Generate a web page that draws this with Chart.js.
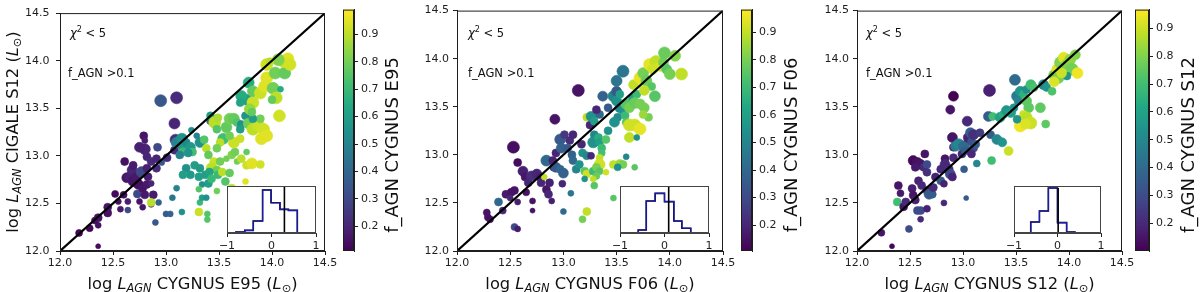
<!DOCTYPE html>
<html><head><meta charset="utf-8">
<script src="https://cdn.jsdelivr.net/npm/chart.js@4.4.1/dist/chart.umd.min.js"></script>
<style>
html,body{margin:0;padding:0;background:#fff;}
#wrap{position:relative;width:1200px;height:292px;overflow:hidden;background:#fff;}
#wrap canvas{position:absolute;left:0;top:0;}
</style></head><body><div id="wrap"></div>
<script>
// ---------------- DATA ----------------
const axisTicks = [12.0, 12.5, 13.0, 13.5, 14.0, 14.5];
const axisTickLabels = ['12.0', '12.5', '13.0', '13.5', '14.0', '14.5'];
const oneToOne = [12.0, 14.5];
const cbTicks = [0.2, 0.3, 0.4, 0.5, 0.6, 0.7, 0.8, 0.9];
const cbTickLabels = ['0.2', '0.3', '0.4', '0.5', '0.6', '0.7', '0.8', '0.9'];
const insetTicks = [-1, 0, 1];
const insetTickLabels = ['\u22121', '0', '1'];
const panelNames = ['E95', 'F06', 'S12'];
const colorRange1 = [0.11, 0.99];
const colorRange2 = [0.106, 0.983];
const colorRange3 = [0.10, 0.968];

// Panel 1: CYGNUS E95 vs CIGALE S12
const p1x = [12.18,12.28,12.33,12.36,12.36,12.45,12.45,12.52,12.36,12.55,
12.57,12.60,12.61,12.63,12.64,12.64,12.66,12.68,12.69,12.69,
12.72,12.73,12.74,12.75,12.77,12.78,12.79,12.80,12.80,12.82,
12.82,12.83,12.78,12.86,12.86,12.88,12.80,12.75,12.82,12.86,
12.91,12.91,12.92,12.96,12.95,13.10,13.08,13.09,13.08,13.01,
12.90,12.93,13.00,13.04,13.06,13.15,13.32,13.39,13.39,13.34,
12.86,13.31,13.10,13.15,13.16,13.18,13.19,13.23,13.16,13.25,
13.32,13.29,13.24,13.42,13.42,13.46,13.49,13.48,13.54,13.51,
13.57,13.60,13.64,13.67,13.71,13.70,13.75,13.76,13.71,13.70,
13.82,13.79,13.78,13.82,13.87,13.92,13.95,13.90,13.89,13.82,
13.81,13.78,13.82,13.89,13.93,13.95,14.01,14.04,14.00,14.08,
13.95,14.03,14.12,14.11,14.15,14.17,14.06,13.98,14.07,13.36,
13.38,13.40,13.48,13.45,13.43,13.48,13.51,13.57,13.62,13.67,
13.71,13.76,13.76,13.81,13.89,13.75,13.65,13.64,13.70,13.60,
13.19,13.23,13.27,13.31,13.32,13.37,13.40,13.34,13.41,13.49,
13.53,13.56,13.60,13.62,13.16,13.21,13.13,13.38,13.48,13.31,
13.43,13.10];
const p1y = [12.19,12.24,12.32,12.35,12.27,12.46,12.40,12.60,12.05,12.52,
12.44,12.59,12.94,12.77,12.52,12.43,12.78,12.85,12.73,12.90,
12.77,12.60,12.70,12.52,12.83,12.66,13.21,13.16,12.59,12.70,
12.87,12.78,12.46,12.71,12.49,12.59,13.07,13.09,12.99,12.94,
12.97,12.87,13.09,12.93,13.58,13.61,13.34,13.17,13.06,12.98,
12.30,12.51,12.39,12.39,12.56,12.41,12.51,12.39,12.33,12.56,
12.51,12.41,13.14,13.18,13.11,13.08,13.14,13.09,13.04,13.04,
13.14,13.21,13.27,13.37,13.42,13.35,13.40,13.28,13.18,13.14,
13.30,13.39,13.39,13.35,13.33,13.28,13.42,13.59,13.63,13.56,
13.56,13.49,13.34,13.28,13.32,13.28,13.21,13.18,13.39,13.39,
13.46,13.77,13.68,13.66,13.73,13.82,13.71,13.61,13.59,13.70,
13.96,13.87,13.87,13.99,14.02,13.96,14.01,13.99,13.42,13.17,
13.08,13.01,13.08,12.94,12.87,12.85,12.94,12.97,13.01,12.94,
12.97,13.04,12.90,12.92,12.91,12.73,13.04,13.14,13.18,13.21,
12.87,12.80,12.90,12.78,12.87,12.80,12.71,12.70,12.83,12.80,
12.83,12.73,12.82,12.66,12.80,13.03,13.01,12.56,12.63,12.65,
12.76,12.66];
const p1f = [.12,.13,.14,.15,.15,.16,.15,.13,.14,.15,
.17,.14,.15,.16,.18,.30,.18,.20,.16,.18,
.17,.30,.15,.16,.30,.16,.16,.18,.17,.17,
.19,.18,.16,.20,.17,.18,.20,.19,.20,.22,
.20,.22,.30,.35,.35,.22,.20,.22,.22,.22,
.35,.38,.35,.38,.45,.55,.70,.75,.75,.60,
.90,.92,.50,.55,.55,.60,.52,.58,.70,.72,
.55,.50,.55,.40,.60,.90,.88,.75,.72,.90,
.78,.80,.78,.75,.55,.60,.55,.60,.65,.62,
.92,.85,.80,.90,.92,.93,.95,.95,.80,.60,
.78,.65,.78,.92,.95,.95,.80,.90,.78,.65,
.92,.80,.78,.92,.95,.93,.82,.90,.93,.75,
.90,.78,.80,.92,.90,.80,.80,.80,.82,.80,
.90,.78,.92,.95,.93,.95,.80,.92,.92,.80,
.55,.58,.60,.60,.58,.60,.60,.55,.62,.70,
.90,.75,.78,.90,.60,.55,.50,.55,.80,.75,
.70,.50];
const p1s = [3.5,3.5,3.5,4,3,4,4,3.5,2.5,3,
3,3.5,4,5,3,3,5,5,5,4,
5,4,5,3,5.5,4,4,3,4,4,
4,4,3,3,3,4,5.5,5,4,4,
4,4,4,3,6,6,5.5,5.5,4,4,
3,3,3,3,3,3,3,3,3,3,
4,4,5.5,5.5,5.5,5,4,5,4,4,
5,3,3,4,4,6,4,4,5.5,4,
5.5,5.5,5.5,4,4,4,4,5.5,5.5,4,
6,5.5,5.5,6,6,6,6,6,4,4,
4,5.5,5.5,6,6,6,6,6,4,3,
6,6,6,6,6,6,6,4,6,4,
4,4,4,4,5.5,4,4,3,4,3,
4,3,4,5.5,4,3,4,5.5,4,4,
4,4,4,4,4,4,4,3,4,4,
4,4,4,4,4,4,4,3,3,3,
4,3];

// Panel 2: CYGNUS F06
const p2x = [12.28,12.29,12.31,12.39,12.43,12.46,12.51,12.50,12.54,12.53,
12.57,12.57,12.54,12.57,12.62,12.64,12.65,12.71,12.71,12.67,
12.70,12.75,12.78,12.79,12.82,12.84,12.86,12.87,12.89,12.84,
12.90,12.91,12.92,12.93,12.97,12.98,12.93,12.97,13.00,12.99,
13.00,13.07,13.01,13.06,13.09,13.14,13.04,13.08,13.09,13.12,
13.15,13.17,13.18,13.22,13.26,13.25,13.20,13.22,13.20,13.28,
13.22,13.26,13.29,13.34,13.31,13.29,13.28,13.33,13.34,13.36,
13.40,13.42,13.36,13.34,13.34,13.31,13.34,13.31,13.29,13.28,
13.40,13.37,13.42,13.47,13.50,13.50,13.56,13.50,13.53,13.53,
13.56,13.51,13.48,13.58,13.59,13.62,13.67,13.72,13.62,13.69,
13.59,13.62,13.65,13.69,13.67,13.72,13.76,13.80,13.75,13.66,
13.72,13.75,13.78,13.83,13.76,13.86,13.81,13.87,13.91,13.94,
13.97,14.00,13.95,14.05,14.11,13.84,13.59,13.47,13.53,13.56,
13.51,13.67,13.47,13.22,13.18];
const p2y = [12.40,12.35,12.33,12.51,12.42,12.59,12.61,12.55,12.63,13.08,
12.92,12.51,12.25,12.23,12.83,12.77,12.61,12.52,12.42,12.71,
12.78,12.80,12.77,12.71,12.77,12.64,12.59,12.71,12.52,12.94,
12.94,12.87,13.37,13.02,13.16,13.07,12.87,12.85,12.81,12.70,
12.41,12.60,13.21,13.15,13.21,13.67,13.07,13.00,12.94,12.85,
12.90,13.11,13.02,12.99,12.99,13.31,12.83,12.80,12.75,12.83,
13.39,13.40,13.35,13.42,13.47,13.21,13.13,13.18,13.13,13.07,
13.16,13.25,13.02,12.97,12.90,12.87,12.83,12.78,12.68,12.75,
12.82,13.61,13.49,13.61,13.66,13.77,13.87,13.56,13.63,13.49,
13.46,13.39,13.34,13.41,13.34,13.31,13.31,13.27,13.18,13.18,
13.53,13.49,13.59,13.63,13.54,13.53,13.49,13.39,13.42,13.73,
13.80,13.85,13.77,13.71,13.67,13.61,13.94,13.97,13.92,13.96,
13.89,13.84,14.06,14.03,13.84,13.89,12.98,12.90,12.91,12.90,
12.87,12.87,12.55,12.41,12.33];
const p2f = [.15,.15,.14,.40,.20,.17,.15,.20,.15,.14,
.13,.18,.30,.17,.18,.16,.15,.15,.15,.20,
.22,.20,.18,.20,.90,.16,.20,.18,.18,.40,
.20,.22,.15,.20,.35,.38,.35,.40,.38,.20,
.40,.45,.25,.22,.20,.15,.35,.38,.40,.50,
.55,.20,.55,.50,.20,.20,.75,.92,.55,.70,
.90,.55,.60,.40,.20,.50,.55,.65,.60,.70,
.75,.55,.72,.90,.92,.80,.75,.78,.75,.90,
.92,.38,.35,.50,.35,.45,.45,.55,.60,.50,
.55,.52,.55,.70,.75,.92,.92,.95,.90,.55,
.75,.80,.60,.70,.78,.80,.80,.80,.85,.90,
.95,.80,.78,.75,.90,.75,.95,.90,.93,.80,
.75,.80,.78,.82,.90,.92,.50,.90,.85,.80,
.55,.75,.75,.90,.80];
const p2s = [3.5,3.5,3.5,4,3.5,4,4,3,4,6,
4,3,3.5,3,5,4,3.5,3,2.5,4,
5,5,4,4,3,4,4,4,3,5.5,
4,4,5,4,5.5,5,5,4,5,3.5,
3,3,4,4,4,6,4,4,4,4,
4,4,4,4,3.5,4,4,4,3,4,
4,5,4,4,4,4,5.5,4,4,4,
4,4,3.5,3.5,5.5,4,3.5,3.5,3.5,3,
3,5,4,5.5,5,5.5,6,5,4,5,
4,4,5,4,4,6,6,6,5,3,
5.5,5,4,4,5.5,5,5,4,4,5,
6,5.5,5.5,4,5,5.5,6,6,5,5,
5,5.5,6,5.5,6,5,3,4,4,4,
3.5,3,3,4,3.5];

// Panel 3: CYGNUS S12
const p3x = [12.23,12.33,12.38,12.39,12.41,12.44,12.46,12.49,12.52,12.53,
12.55,12.57,12.60,12.60,12.66,12.53,12.57,12.60,12.55,12.63,
12.66,12.66,12.64,12.58,12.61,12.66,12.68,12.71,12.72,12.74,
12.79,12.79,12.83,12.83,12.82,12.82,12.86,12.88,12.90,12.91,
12.90,12.91,12.88,12.91,13.01,13.03,12.93,12.96,13.01,12.99,
13.02,13.04,13.05,13.07,13.08,13.10,13.10,13.08,13.12,13.13,
13.16,13.25,13.26,13.24,13.28,13.32,13.37,13.43,13.27,13.35,
13.38,13.41,13.45,13.48,13.51,13.49,13.52,13.54,13.57,13.60,
13.64,13.67,13.60,13.62,13.57,13.60,13.64,13.54,13.59,13.51,
13.73,13.78,13.76,13.79,13.84,13.86,13.89,13.90,13.92,13.95,
13.98,14.01,14.03,14.06,14.08,13.98,13.93,13.86];
const p3y = [12.19,12.05,12.51,12.68,12.60,12.46,12.51,12.23,12.65,12.58,
12.53,12.42,12.42,12.33,12.44,12.94,12.92,12.90,12.87,12.87,
12.90,12.82,13.01,12.73,12.68,12.63,12.59,12.59,12.66,12.77,
12.85,12.73,12.96,12.90,12.70,12.50,12.85,12.80,12.77,12.97,
13.18,13.08,13.47,13.61,12.85,12.55,13.09,13.11,13.09,13.01,
13.04,13.35,13.18,13.23,13.14,13.21,13.07,13.01,13.11,12.91,
13.23,13.67,13.21,13.40,13.40,13.16,13.13,13.04,12.94,13.39,
13.42,13.46,13.44,13.49,13.61,13.78,13.56,13.66,13.63,13.68,
13.73,13.70,13.56,13.49,13.42,13.39,13.33,13.30,13.32,13.37,
13.49,13.32,13.73,13.70,13.66,13.83,13.89,13.80,13.96,14.01,
13.94,13.99,13.89,14.04,13.85,13.82,13.85,13.76];
const p3f = [.15,.12,.70,.15,.16,.15,.20,.30,.17,.15,
.18,.30,.30,.20,.18,.12,.14,.15,.16,.20,
.30,.22,.15,.18,.20,.18,.35,.35,.20,.18,
.20,.35,.15,.20,.18,.20,.20,.30,.18,.20,
.15,.18,.15,.10,.35,.35,.45,.50,.40,.20,
.35,.20,.18,.35,.32,.22,.30,.20,.35,.50,
.25,.18,.35,.35,.70,.50,.55,.90,.70,.60,
.65,.55,.58,.55,.45,.40,.50,.55,.65,.52,
.70,.72,.75,.75,.90,.88,.90,.95,.92,.55,
.75,.75,.50,.55,.72,.78,.92,.78,.80,.93,
.80,.82,.78,.80,.95,.55,.90,.92];
const p3s = [3.5,2.5,4,4,3.5,4,4,3.5,4,4,
4,4,4,3,3.5,5,5,5,4,4,
4,4,4,4,4,4,5,4,4,4,
4,4,4,5,3.5,3,5,5,4,4,
5,4,4.5,5,3.5,2.5,5,5.5,5.5,4,
4,5,5,5,4,5,4,4,4,3.5,
4,6,4,5,4,5,4.5,4.5,4,5,
4,5,5,4,5.5,5.5,4,5,4,4,
5,4,5,5,4,5.5,6,6,5,4,
5,4,5,4,4,5.5,5.5,5.5,6,5.5,
5.5,5.5,6,5,5.5,4,5,5];

// Inset histograms (log-ratio distributions)
const h1Edges = [-0.80,-0.60,-0.41,-0.20,-0.01,0.19,0.38,0.58,0.80];
const h1Counts = [1.3,1.3,3.4,15.3,54.9,38.7,30.2,28.9];
const h1Median = 0.29;
const h2Edges = [-0.59,-0.41,-0.21,0.00,0.21,0.39,0.59,0.79];
const h2Counts = [1.3,3.8,40.9,50.6,40.0,15.3,6.0];
const h2Median = 0.094;
const h3Edges = [-0.615,-0.415,-0.21,0.00,0.21,0.40,0.60];
const h3Counts = [1.3,14.0,28.1,57.4,13.2,1.3];
const h3Median = 0.015;
const histMax = 60;

// ---------------- STYLE / LAYOUT ----------------
const W = 1200, H = 292;
const FAM = '"DejaVu Sans", sans-serif';
Chart.defaults.font.family = FAM;
const INK = '#1e1e1e';
const VIR = [[68,1,84],[72,36,117],[65,68,135],[53,95,141],[42,120,142],[33,145,140],[34,168,132],[68,191,112],[122,209,81],[189,223,38],[253,231,37]];
function viridis(t){
  t = Math.max(0, Math.min(1, t));
  const p = t*10, i = Math.min(9, Math.floor(p)), u = p - i;
  const a = VIR[i], b = VIR[i+1];
  return 'rgb(' + [0,1,2].map(k => Math.round(a[k] + (b[k]-a[k])*u)).join(',') + ')';
}
function mk(){
  const c = document.createElement('canvas');
  c.width = W; c.height = H; c.style.width = W+'px'; c.style.height = H+'px';
  document.getElementById('wrap').appendChild(c);
  return c;
}
function richText(ctx, parts, x, y, opt){
  const size = opt.size, rot = opt.rot || 0, align = opt.align || 'center';
  ctx.save();
  ctx.translate(x, y); ctx.rotate(rot);
  ctx.fillStyle = opt.color || '#111';
  ctx.textBaseline = 'alphabetic';
  const segs = parts.map(p => {
    const st = p[1] || '';
    const sub = st.includes('s'), sup = st.includes('p');
    const sz = (sub || sup) ? size*0.7 : size;
    const font = (st.includes('i') ? 'italic ' : '') + sz.toFixed(2) + 'px ' + FAM;
    ctx.font = font;
    return {t:p[0], font, w:ctx.measureText(p[0]).width, dy: sub ? size*0.22 : (sup ? -size*0.42 : 0)};
  });
  const total = segs.reduce((a, s) => a + s.w, 0);
  let cx = align === 'center' ? -total/2 : 0;
  const base = size*0.36;
  segs.forEach(s => { ctx.font = s.font; ctx.fillText(s.t, cx, base + s.dy); cx += s.w; });
  ctx.restore();
}

const panels = [
  {x:p1x, y:p1y, f:p1f, s:p1s, cr:colorRange1, name:panelNames[0],
   area:{l:60,r:325,t:9,b:251}, ypad:6.5, cb:{l:343,r:354,t:8,b:251}, cbLabelX:392,
   inset:{l:227,r:316,t:186,b:233}, edges:h1Edges, counts:h1Counts, med:h1Median, medTop:60,
   chiX:70, fX:68, ylabel:true},
  {x:p2x, y:p2y, f:p2f, s:p2s, cr:colorRange2, name:panelNames[1],
   area:{l:457,r:723,t:9,b:251}, ypad:4, cb:{l:741,r:752,t:9,b:251}, cbLabelX:791,
   inset:{l:620,r:709,t:186,b:233}, edges:h2Edges, counts:h2Counts, med:h2Median, medTop:60,
   chiX:468, fX:468, ylabel:false},
  {x:p3x, y:p3y, f:p3f, s:p3s, cr:colorRange3, name:panelNames[2],
   area:{l:857,r:1122,t:9,b:251}, ypad:4, cb:{l:1135,r:1149,t:9,b:251}, cbLabelX:1188,
   inset:{l:1014,r:1101,t:186,b:233}, edges:h3Edges, counts:h3Counts, med:h3Median, medTop:57.4,
   chiX:866, fX:866, ylabel:false}
];

const tickFont = {family:FAM, size:11};
function fixedTicks(vals){ return s => { s.ticks = vals.map(v => ({value:v})); }; }

function mainChart(P){
  const R = P.area;
  const [cmin, cmax] = P.cr;
  const pts = P.x.map((v, i) => ({x:v, y:P.y[i]}));
  const cols = P.f.map(f => viridis((f - cmin)/(cmax - cmin)));
  const deco = {
    id:'deco',
    afterDraw(chart){
      const ctx = chart.ctx, ca = chart.chartArea;
      ctx.save();
      ctx.strokeStyle = INK; ctx.lineWidth = 1;
      ctx.strokeRect(ca.left + 0.5, ca.top + 0.5, ca.right - ca.left - 1, ca.bottom - ca.top - 1);
      ctx.restore();
      richText(ctx, [['\u03c7','i'],['2','p'],[' < 5','']], P.chiX, 33, {size:11.5, align:'left', color:'#111'});
      richText(ctx, [['f_AGN >0.1','']], P.fX, 73, {size:11.5, align:'left', color:'#111'});
      richText(ctx, [['log ',''],['L','i'],['AGN','is'],[' CYGNUS ' + P.name + ' (',''],['L','i'],['\u2299','s'],[')','']],
        (ca.left + ca.right)/2, 283, {size:16.3});
      if (P.ylabel){
        richText(ctx, [['log ',''],['L','i'],['AGN','is'],[' CIGALE S12 (',''],['L','i'],['\u2299','s'],[')','']],
          12, 132, {size:16.3, rot:-Math.PI/2});
      }
    }
  };
  new Chart(mk(), {
    type:'scatter',
    data:{datasets:[
      {type:'line', data:oneToOne.map(v => ({x:v, y:v})), borderColor:'#000', borderWidth:2.2,
       pointRadius:0, fill:false, order:0, clip:0},
      {type:'scatter', data:pts, pointRadius:P.s, pointHoverRadius:P.s, pointBackgroundColor:cols,
       pointBorderColor:cols, pointBorderWidth:0.6, order:1, clip:0}
    ]},
    options:{
      responsive:false, animation:false, events:[],
      layout:{padding:{left:0, top:R.t, right:W - R.r, bottom:0}},
      plugins:{legend:{display:false}, tooltip:{enabled:false}},
      scales:{
        x:{type:'linear', min:12, max:14.5,
           afterFit:s => { s.height = H - R.b; },
           afterBuildTicks:fixedTicks(axisTicks),
           ticks:{autoSkip:false, maxRotation:0, padding:2, color:INK, font:tickFont,
                  callback:v => axisTickLabels[axisTicks.indexOf(v)]},
           grid:{drawOnChartArea:false, drawTicks:true, tickLength:4, color:INK, lineWidth:1},
           border:{display:true, color:INK, width:1}},
        y:{type:'linear', min:12, max:14.5,
           afterFit:s => { s.width = R.l; },
           afterBuildTicks:fixedTicks(axisTicks),
           ticks:{autoSkip:false, padding:P.ypad, color:INK, font:tickFont,
                  callback:v => axisTickLabels[axisTicks.indexOf(v)]},
           grid:{drawOnChartArea:false, drawTicks:true, tickLength:4, color:INK, lineWidth:1},
           border:{display:true, color:INK, width:1}}
      }
    },
    plugins:[deco]
  });
}

function colorbar(P){
  const C = P.cb;
  const [cmin, cmax] = P.cr;
  const grad = {
    id:'grad',
    beforeDraw(chart){
      const ctx = chart.ctx, ca = chart.chartArea;
      const g = ctx.createLinearGradient(0, ca.bottom, 0, ca.top);
      for (let k = 0; k <= 40; k++){ g.addColorStop(k/40, viridis(k/40)); }
      ctx.save(); ctx.fillStyle = g;
      ctx.fillRect(ca.left, ca.top, ca.right - ca.left, ca.bottom - ca.top);
      ctx.restore();
    },
    afterDraw(chart){
      const ctx = chart.ctx, ca = chart.chartArea;
      ctx.save(); ctx.strokeStyle = INK; ctx.lineWidth = 1;
      ctx.strokeRect(ca.left + 0.5, ca.top + 0.5, ca.right - ca.left - 1, ca.bottom - ca.top - 1);
      ctx.restore();
      richText(ctx, [['f_AGN CYGNUS ' + P.name, '']], P.cbLabelX, 145, {size:18, rot:-Math.PI/2});
    }
  };
  new Chart(mk(), {
    type:'scatter',
    data:{datasets:[]},
    options:{
      responsive:false, animation:false, events:[],
      layout:{padding:{left:C.l, top:C.t, right:0, bottom:H - C.b}},
      plugins:{legend:{display:false}, tooltip:{enabled:false}},
      scales:{
        x:{display:false, min:0, max:1},
        y:{position:'right', min:cmin, max:cmax,
           afterFit:s => { s.width = W - C.r; },
           afterBuildTicks:fixedTicks(cbTicks),
           ticks:{autoSkip:false, padding:3, color:INK, font:tickFont,
                  callback:v => cbTickLabels[cbTicks.indexOf(v)]},
           grid:{drawOnChartArea:false, drawTicks:true, tickLength:4, color:INK, lineWidth:1},
           border:{display:true, color:INK, width:1}}
      }
    },
    plugins:[grad]
  });
}

function inset(P){
  const I = P.inset;
  const stepPts = [{x:P.edges[0], y:0}];
  P.counts.forEach((c, i) => stepPts.push({x:P.edges[i], y:c}));
  stepPts.push({x:P.edges[P.edges.length - 1], y:0});
  const box = {
    id:'box',
    beforeDraw(chart){
      const ctx = chart.ctx, ca = chart.chartArea;
      ctx.save(); ctx.fillStyle = '#fff';
      ctx.fillRect(ca.left, ca.top, ca.right - ca.left, ca.bottom - ca.top);
      ctx.restore();
    },
    afterDraw(chart){
      const ctx = chart.ctx, ca = chart.chartArea;
      ctx.save(); ctx.strokeStyle = '#444'; ctx.lineWidth = 1;
      ctx.strokeRect(ca.left + 0.5, ca.top + 0.5, ca.right - ca.left - 1, ca.bottom - ca.top - 1);
      ctx.restore();
    }
  };
  new Chart(mk(), {
    type:'line',
    data:{datasets:[
      {data:[{x:P.med, y:0}, {x:P.med, y:P.medTop}], borderColor:'#000', borderWidth:1.6, pointRadius:0, order:0, clip:0},
      {data:stepPts, stepped:'after', borderColor:'#1a1acc', borderWidth:1.1, pointRadius:0, order:1, clip:0},
      {data:stepPts, stepped:'after', borderColor:'#000', borderWidth:1.6, pointRadius:0, order:2, clip:0}
    ]},
    options:{
      responsive:false, animation:false, events:[],
      layout:{padding:{left:I.l, top:I.t, right:W - I.r, bottom:0}},
      plugins:{legend:{display:false}, tooltip:{enabled:false}},
      scales:{
        x:{type:'linear', min:-1, max:1,
           afterFit:s => { s.height = H - I.b; },
           afterBuildTicks:fixedTicks(insetTicks),
           ticks:{autoSkip:false, maxRotation:0, padding:3, color:INK, font:tickFont,
                  callback:v => insetTickLabels[insetTicks.indexOf(v)]},
           grid:{drawOnChartArea:false, drawTicks:true, tickLength:4, color:INK, lineWidth:1},
           border:{display:true, color:'#444', width:1}},
        y:{display:false, min:0, max:histMax}
      }
    },
    plugins:[box]
  });
}

panels.forEach(P => { mainChart(P); colorbar(P); inset(P); });
</script>
</body></html>
